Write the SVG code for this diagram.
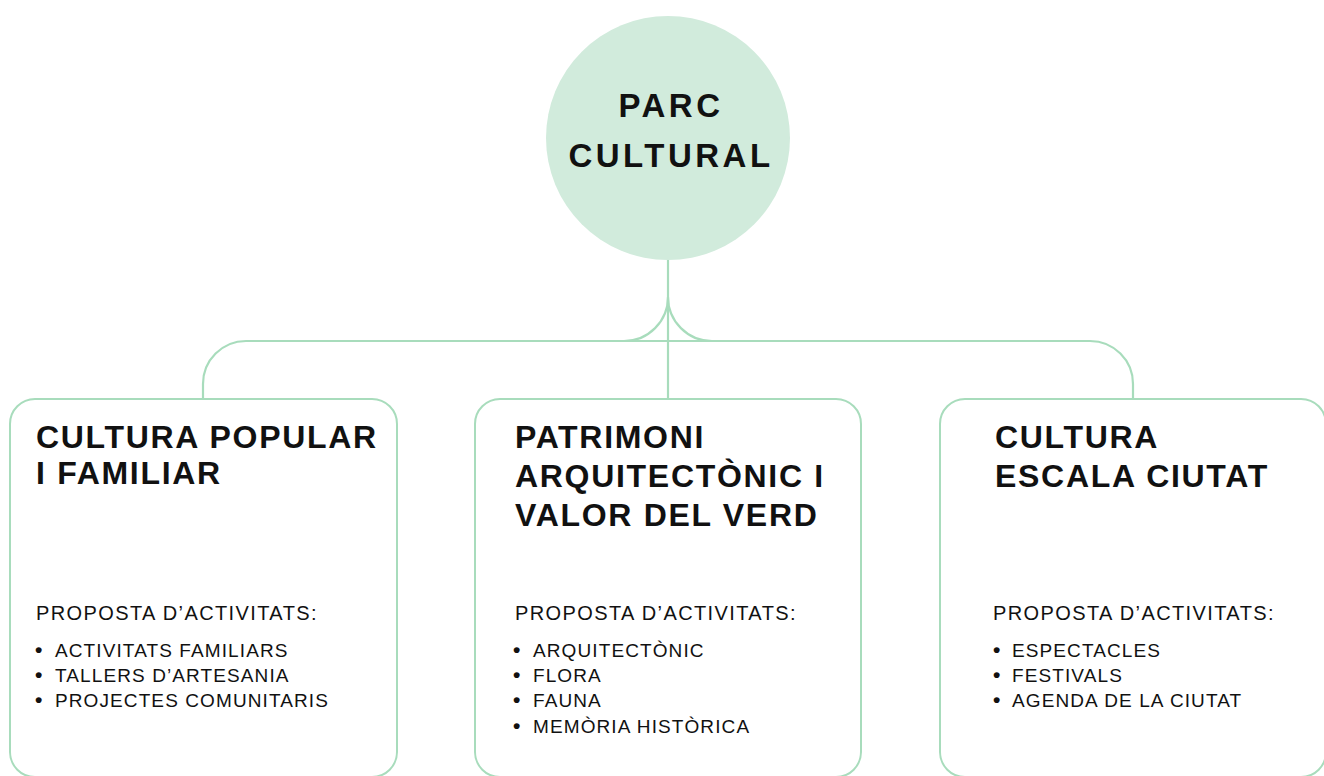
<svg xmlns="http://www.w3.org/2000/svg" width="1324" height="776" viewBox="0 0 1324 776">
<style>
.box{fill:#ffffff;stroke:#a8dcbc;stroke-width:2}
.conn{fill:none;stroke:#a8dcbc;stroke-width:2.2}
.title{font-family:"Liberation Sans",Arial,sans-serif;font-weight:bold;font-size:32px;letter-spacing:1.7px;fill:#111}
.ctitle{font-family:"Liberation Sans",Arial,sans-serif;font-weight:bold;font-size:33px;letter-spacing:3.5px;fill:#111}
.head{font-family:"Liberation Sans",Arial,sans-serif;font-size:20px;letter-spacing:1.4px;fill:#111}
.item{font-family:"Liberation Sans",Arial,sans-serif;font-size:19px;letter-spacing:1.1px;fill:#111}
.bul{font-family:"Liberation Sans",Arial,sans-serif;font-size:21px;font-weight:bold;fill:#111}
</style>
<rect width="1324" height="776" fill="#ffffff"/>
<g id="connectors">
<path class="conn" d="M668,259 V399"/>
<path class="conn" d="M203,399 V384 A43,43 0 0 1 246,341 H1090 A43,43 0 0 1 1133,384 V399"/>
<path class="conn" d="M624,341 A44,44 0 0 0 668,297 A44,44 0 0 0 712,341"/>
</g>
<g id="parc-cultural">
<circle cx="668" cy="138" r="122" fill="#d1ebdc"/>
<text class="ctitle" x="671" y="117" text-anchor="middle">PARC</text>
<text class="ctitle" x="671" y="167" text-anchor="middle">CULTURAL</text>
</g>
<g id="cultura-popular">
<rect class="box" x="10" y="399" width="387" height="378" rx="25"/>
<text class="title" x="36" y="448">CULTURA POPULAR</text>
<text class="title" x="36" y="484">I FAMILIAR</text>
<text class="head" x="36" y="620">PROPOSTA D’ACTIVITATS:</text>
<text class="bul" x="35" y="657">•</text><text class="item" x="55" y="657">ACTIVITATS FAMILIARS</text>
<text class="bul" x="35" y="682">•</text><text class="item" x="55" y="682">TALLERS D’ARTESANIA</text>
<text class="bul" x="35" y="707">•</text><text class="item" x="55" y="707">PROJECTES COMUNITARIS</text>
</g>
<g id="patrimoni">
<rect class="box" x="475" y="399" width="386" height="378" rx="25"/>
<text class="title" x="515" y="448">PATRIMONI</text>
<text class="title" x="515" y="487">ARQUITECTÒNIC I</text>
<text class="title" x="515" y="526">VALOR DEL VERD</text>
<text class="head" x="515" y="620">PROPOSTA D’ACTIVITATS:</text>
<text class="bul" x="513" y="657">•</text><text class="item" x="533" y="657">ARQUITECTÒNIC</text>
<text class="bul" x="513" y="682">•</text><text class="item" x="533" y="682">FLORA</text>
<text class="bul" x="513" y="707">•</text><text class="item" x="533" y="707">FAUNA</text>
<text class="bul" x="513" y="733">•</text><text class="item" x="533" y="733">MEMÒRIA HISTÒRICA</text>
</g>
<g id="cultura-escala">
<rect class="box" x="940" y="399" width="386" height="378" rx="25"/>
<text class="title" x="995" y="448">CULTURA</text>
<text class="title" x="995" y="487">ESCALA CIUTAT</text>
<text class="head" x="993" y="620">PROPOSTA D’ACTIVITATS:</text>
<text class="bul" x="993" y="657">•</text><text class="item" x="1012" y="657">ESPECTACLES</text>
<text class="bul" x="993" y="682">•</text><text class="item" x="1012" y="682">FESTIVALS</text>
<text class="bul" x="993" y="707">•</text><text class="item" x="1012" y="707">AGENDA DE LA CIUTAT</text>
</g>
</svg>
